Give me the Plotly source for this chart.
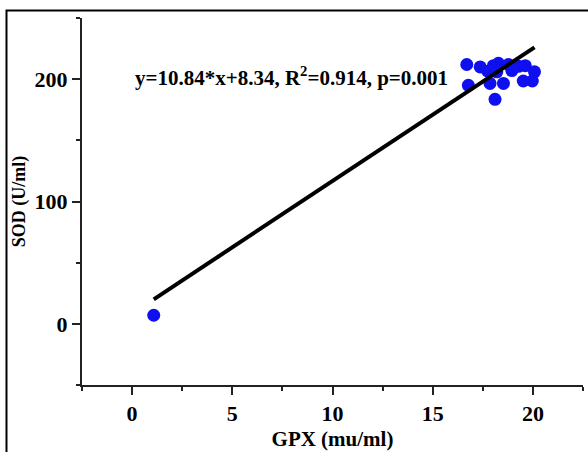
import plotly.graph_objects as go

# GPX activity (mu/ml) against SOD activity (U/ml)
gpx = [1.08, 16.70, 16.78, 17.37, 17.75, 18.03, 18.28, 18.20, 18.78, 18.95,
       19.28, 19.62, 20.08, 19.97, 19.52, 18.53, 17.86, 18.11]
sod = [7.0, 212.0, 195.0, 210.0, 206.5, 211.0, 213.0, 206.0, 212.0, 207.0,
       210.5, 211.0, 206.0, 198.5, 198.5, 196.5, 196.5, 183.5]

# Linear fit reported in the annotation
slope = 10.84
intercept = 8.34
r_squared = 0.914
p_value = 0.001

fit_x = [min(gpx), max(gpx)]
fit_y = [slope * v + intercept for v in fit_x]

x_ticks = [0, 5, 10, 15, 20]
y_ticks = [0, 100, 200]

font_family = "Liberation Serif"

fig = go.Figure()

fig.add_trace(go.Scatter(
    x=gpx, y=sod, mode="markers",
    marker=dict(color="rgb(15,15,240)", size=13, line=dict(width=0)),
    showlegend=False,
))

fig.add_trace(go.Scatter(
    x=fit_x, y=fit_y, mode="lines",
    line=dict(color="black", width=4),
    showlegend=False,
))

fig.add_annotation(
    x=0.05, y=202, xref="x", yref="y",
    xanchor="left", yanchor="middle",
    text=f"<b>y={slope}*x+{intercept}, R<sup>2</sup>={r_squared}, p={p_value}</b>",
    showarrow=False,
    font=dict(family=font_family, size=21, color="black"),
)

# Outer frame around the figure
fig.add_shape(
    type="rect", xref="paper", yref="paper",
    x0=-0.1507, x1=1.3, y0=-0.6, y1=1.0204,
    line=dict(color="black", width=2), fillcolor="rgba(0,0,0,0)",
)

axis_common = dict(
    showline=True, linecolor="#222", linewidth=2,
    ticks="outside", ticklen=8, tickwidth=2, tickcolor="#222",
    showgrid=False, zeroline=False,
    tickfont=dict(family=font_family, size=22, color="black"),
)

fig.update_xaxes(
    range=[-2.5, 22.5], tickvals=x_ticks,
    ticktext=[f"<b>{v}</b>" for v in x_ticks],
    minor=dict(dtick=2.5, tick0=-2.5, ticks="outside", ticklen=4, tickwidth=2, tickcolor="#222"),
    title=dict(text="<b>GPX (mu/ml)</b>", standoff=6,
               font=dict(family=font_family, size=21, color="black")),
    **axis_common,
)

fig.update_yaxes(
    range=[-50, 250], tickvals=y_ticks,
    ticktext=[f"<b>{v}</b>" for v in y_ticks],
    minor=dict(dtick=50, tick0=-50, ticks="outside", ticklen=4, tickwidth=2, tickcolor="#222"),
    title=dict(text="<b>SOD (U/ml)</b>", standoff=4,
               font=dict(family=font_family, size=18, color="black")),
    **axis_common,
)

fig.update_layout(
    width=588, height=452,
    margin=dict(l=82, r=5, t=18, b=67),
    paper_bgcolor="white", plot_bgcolor="white",
)

fig.write_html("out.html")
